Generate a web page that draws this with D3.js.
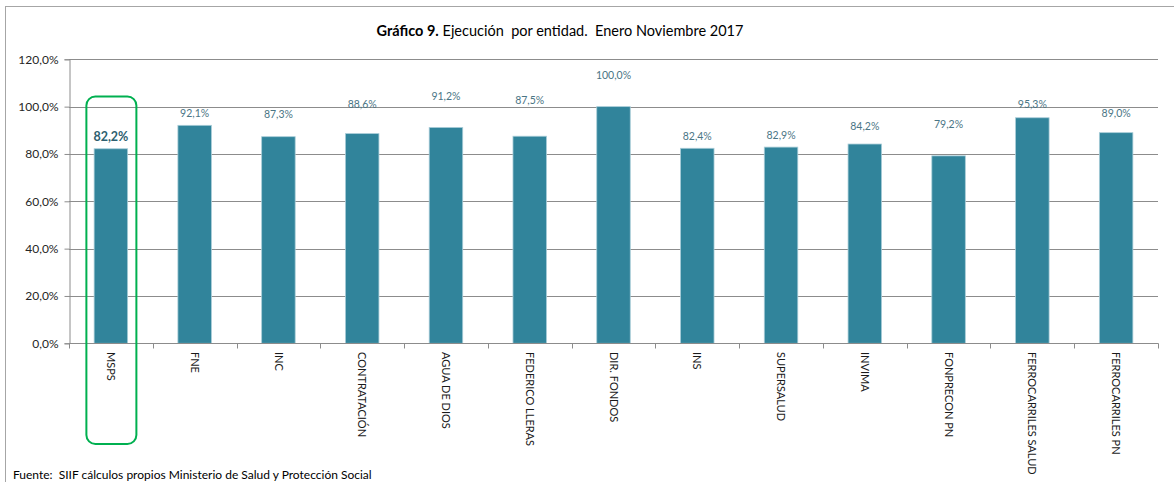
<!DOCTYPE html>
<meta charset="utf-8">
<script src="https://d3js.org/d3.v7.min.js"></script>
<style>
  body { margin: 0; background: #fff; }
  text { font-family: Lato, "Open Sans", sans-serif; white-space: pre; }
</style>
<div id="chart"></div>
<script>

// entities and execution (%)
var entidades = ["MSPS", "FNE", "INC", "CONTRATACIÓN", "AGUA DE DIOS", "FEDERICO LLERAS",
  "DIR. FONDOS", "INS", "SUPERSALUD", "INVIMA", "FONPRECON PN", "FERROCARRILES SALUD", "FERROCARRILES PN"];
var ejecucion = [82.2, 92.1, 87.3, 88.6, 91.2, 87.5, 100.0, 82.4, 82.9, 84.2, 79.2, 95.3, 89.0];
// level (in % units) where each data label sits
var labelLevel = [87.5, 97.3, 96.8, 101.0, 104.4, 102.7, 113.2, 87.5, 87.9, 91.8, 92.7, 100.9, 97.3];
var yTicks = [0, 20, 40, 60, 80, 100, 120];
var destacada = "MSPS";

var W = 1174, H = 482;
var svg = d3.select("#chart").append("svg")
    .attr("width", W)
    .attr("height", H);

// outer frame
svg.append("rect")
    .attr("x", 5.5).attr("y", 6.5)
    .attr("width", W + 10).attr("height", H + 10)
    .attr("fill", "none")
    .attr("stroke", "#a6a6a6");

var x = d3.scaleBand()
    .domain(entidades)
    .range([69, 1158])
    .paddingInner(0.6)
    .paddingOuter(0.3);

var y = d3.scaleLinear()
    .domain([0, 120])
    .range([343.3, 59.3]);

var fmt = function (v) { return v.toFixed(1).replace(".", ",") + "%"; };

// gridlines
svg.append("g")
  .selectAll("line")
  .data(yTicks.filter(function (d) { return d > 0; }))
  .enter()
  .append("line")
    .attr("x1", 69).attr("x2", 1158)
    .attr("y1", function (d) { return Math.round(y(d)) + 0.5; })
    .attr("y2", function (d) { return Math.round(y(d)) + 0.5; })
    .attr("stroke", "#8c8c8c");

// y axis
var yAxis = svg.append("g")
    .attr("transform", "translate(69.5,0)")
    .call(d3.axisLeft(y).tickValues(yTicks).tickSize(5).tickPadding(6)
      .tickFormat(function (d) { return d.toFixed(1).replace(".", ",") + "%"; }));
yAxis.select(".domain").attr("stroke", "#8c8c8c");
yAxis.selectAll(".tick line").attr("stroke", "#8c8c8c");
yAxis.selectAll(".tick text")
    .attr("font-family", "Lato, sans-serif")
    .attr("font-size", 12)
    .attr("fill", "#262626");

// bars
svg.append("g")
  .selectAll("rect")
  .data(entidades)
  .enter()
  .append("rect")
    .attr("x", function (d) { return x(d); })
    .attr("y", function (d, i) { return y(ejecucion[i]); })
    .attr("width", x.bandwidth())
    .attr("height", function (d, i) { return y(0) - y(ejecucion[i]); })
    .attr("fill", "#31849b")
    .attr("stroke", "#a9cdd8")
    .attr("stroke-width", 0.8);

// x axis line and tick marks at band boundaries
var y0 = Math.round(y(0)) + 0.5;
svg.append("line")
    .attr("x1", 69).attr("x2", 1158.5)
    .attr("y1", y0).attr("y2", y0)
    .attr("stroke", "#8c8c8c");
var bounds = entidades.map(function (d) { return x(d) - x.step() * x.paddingOuter(); });
bounds.push(x.range()[1]);
svg.append("g")
  .selectAll("line")
  .data(bounds)
  .enter()
  .append("line")
    .attr("x1", function (d) { return Math.round(d) + 0.5; })
    .attr("x2", function (d) { return Math.round(d) + 0.5; })
    .attr("y1", y0).attr("y2", y0 + 5)
    .attr("stroke", "#8c8c8c");

// rotated category labels
svg.append("g")
  .selectAll("text")
  .data(entidades)
  .enter()
  .append("text")
    .attr("transform", function (d) {
      return "translate(" + (x(d) + x.bandwidth() / 2) + ",352) rotate(90)";
    })
    .attr("dy", "0.35em")
    .attr("font-size", 11)
    .attr("fill", "#1a1a1a")
    .text(function (d) { return d; });

// data labels
svg.append("g")
  .selectAll("text")
  .data(entidades)
  .enter()
  .append("text")
    .attr("x", function (d) { return x(d) + x.bandwidth() / 2; })
    .attr("y", function (d, i) { return y(labelLevel[i]); })
    .attr("dy", "0.35em")
    .attr("text-anchor", "middle")
    .attr("font-size", function (d) { return d === destacada ? 12.5 : 10.5; })
    .attr("font-weight", function (d) { return d === destacada ? "bold" : "normal"; })
    .attr("fill", function (d) { return d === destacada ? "#2e5f70" : "#4a7585"; })
    .text(function (d, i) { return fmt(ejecucion[i]); });

// highlight box around MSPS
var cx = x(destacada) + x.bandwidth() / 2;
svg.append("rect")
    .attr("x", cx - 24.5)
    .attr("y", y(104.3))
    .attr("width", 50)
    .attr("height", 444 - y(104.3))
    .attr("rx", 9)
    .attr("fill", "none")
    .attr("stroke", "#00b050")
    .attr("stroke-width", 2);

// title
var title = svg.append("text")
    .attr("x", 560)
    .attr("y", 36)
    .attr("text-anchor", "middle")
    .attr("font-size", 14.5)
    .attr("fill", "#000");
title.append("tspan").attr("font-weight", "bold").text("Gráfico 9.");
title.append("tspan").text(" Ejecución  por entidad.  Enero Noviembre 2017");

// source
svg.append("text")
    .attr("x", 13)
    .attr("y", 479)
    .attr("font-size", 12)
    .attr("fill", "#000")
    .text("Fuente:  SIIF cálculos propios Ministerio de Salud y Protección Social");

</script>
